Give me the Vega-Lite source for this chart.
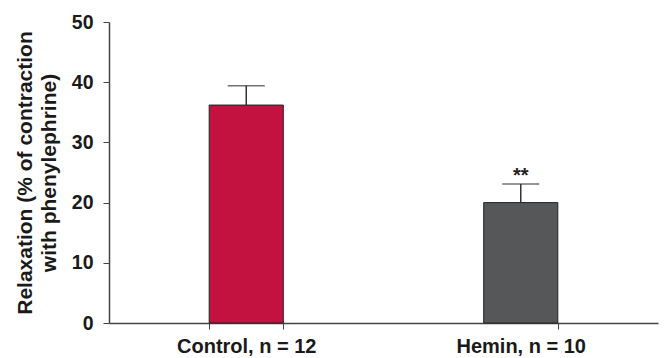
{
  "$schema": "https://vega.github.io/schema/vega-lite/v6.json",
  "width": 549,
  "height": 301,
  "autosize": "none",
  "padding": {"left": 109, "top": 22, "right": 6, "bottom": 35},
  "background": "white",
  "data": {"values": [
    {"group": "Control, n = 12", "value": 36.2, "upper": 39.4, "sig": ""},
    {"group": "Hemin, n = 10", "value": 20.0, "upper": 23.1, "sig": "**"}
  ]},
  "config": {
    "view": {"stroke": null},
    "font": "Liberation Sans",
    "axis": {"grid": false, "domainColor": "#444", "tickColor": "#444", "labelColor": "#1a1a1a", "titleColor": "#1a1a1a", "labelFont": "Liberation Sans", "titleFont": "Liberation Sans"}
  },
  "encoding": {
    "x": {"field": "group", "type": "nominal", "sort": null,
      "scale": {"paddingInner": 0.73, "paddingOuter": 0.365},
      "axis": {"title": null, "labelAngle": 0, "labelFontSize": 20, "labelFontWeight": "bold", "labelPadding": 7, "tickBand": "extent", "tickSize": 6, "domainWidth": 1.5}
    }
  },
  "layer": [
    {
      "mark": {"type": "rule", "color": "#333", "strokeWidth": 1.5},
      "encoding": {
        "y": {"field": "value", "type": "quantitative"},
        "y2": {"field": "upper"}
      }
    },
    {
      "mark": {"type": "tick", "color": "#333", "thickness": 1.5, "size": 37, "orient": "horizontal"},
      "encoding": {"y": {"field": "upper", "type": "quantitative"}}
    },
    {
      "mark": {"type": "bar", "stroke": "#222", "strokeWidth": 1},
      "encoding": {
        "y": {"field": "value", "type": "quantitative",
          "scale": {"domain": [0, 50]},
          "axis": {"title": ["Relaxation (% of contraction", "with phenylephrine)"], "titleFontSize": 21, "titleFontWeight": "bold", "titleLineHeight": 24, "titlePadding": 12, "labelFontSize": 19.5, "labelFontWeight": "bold", "values": [0, 10, 20, 30, 40, 50], "tickSize": 6, "labelPadding": 10, "domainWidth": 1.5}
        },
        "color": {"field": "group", "type": "nominal", "scale": {"range": ["#C41240", "#555759"]}, "legend": null}
      }
    },
    {
      "mark": {"type": "text", "fontSize": 20, "fontWeight": "bold", "dy": -2, "baseline": "alphabetic", "color": "#222"},
      "encoding": {
        "y": {"field": "upper", "type": "quantitative"},
        "text": {"field": "sig"}
      }
    }
  ]
}
